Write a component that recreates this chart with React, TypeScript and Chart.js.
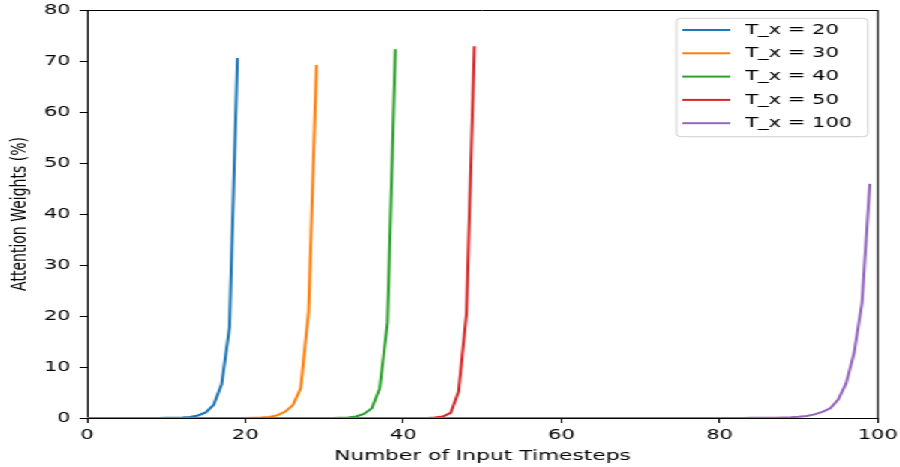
import React, { useEffect, useRef } from "react";
import { Chart, registerables } from "chart.js";

Chart.register(...registerables);

// ---- data ----
const seriesLabels = ["T_x = 20", "T_x = 30", "T_x = 40", "T_x = 50", "T_x = 100"];
const seriesColors = ["#1f77b4", "#ff7f0e", "#2ca02c", "#d62728", "#9467bd"];
const xTicks = [0, 20, 40, 60, 80, 100];
const yTicks = [0, 10, 20, 30, 40, 50, 60, 70, 80];
const xTitle = "Number of Input Timesteps";
const yTitle = "Attention Weights (%)";

const attnTx20 = [
  0, 0, 0, 0, 0, 0, 0, 0, 0.01, 0.02,
  0.03, 0.05, 0.1, 0.2, 0.5, 1.1, 2.6, 6.6, 17.8, 70.6,
];

const attnTx30 = [
  0, 0, 0, 0, 0, 0, 0, 0, 0, 0,
  0, 0, 0, 0, 0, 0, 0, 0, 0, 0.01,
  0.02, 0.05, 0.1, 0.2, 0.5, 1.2, 2.5, 5.8, 20.8, 69.2,
];

const attnTx40 = [
  0, 0, 0, 0, 0, 0, 0, 0, 0, 0,
  0, 0, 0, 0, 0, 0, 0, 0, 0, 0,
  0, 0, 0, 0, 0, 0, 0, 0, 0, 0,
  0, 0.02, 0.05, 0.1, 0.3, 0.8, 1.9, 5.8, 18.7, 72.3,
];

const attnTx50 = [
  0, 0, 0, 0, 0, 0, 0, 0, 0, 0,
  0, 0, 0, 0, 0, 0, 0, 0, 0, 0,
  0, 0, 0, 0, 0, 0, 0, 0, 0, 0,
  0, 0, 0, 0, 0, 0, 0, 0, 0, 0,
  0, 0, 0, 0.02, 0.08, 0.3, 1.0, 5.2, 20.5, 72.9,
];

const attnTx100 = [
  0, 0, 0, 0, 0, 0, 0, 0, 0, 0,
  0, 0, 0, 0, 0, 0, 0, 0, 0, 0,
  0, 0, 0, 0, 0, 0, 0, 0, 0, 0,
  0, 0, 0, 0, 0, 0, 0, 0, 0, 0,
  0, 0, 0, 0, 0, 0, 0, 0, 0, 0,
  0, 0, 0, 0, 0, 0, 0, 0, 0, 0,
  0, 0, 0, 0, 0, 0, 0, 0, 0, 0,
  0, 0, 0, 0, 0, 0, 0, 0, 0, 0,
  0.005, 0.01, 0.013, 0.018, 0.025, 0.035, 0.05, 0.07, 0.1, 0.15,
  0.25, 0.4, 0.7, 1.2, 1.9, 3.6, 6.8, 12.7, 22.5, 45.9,
];

const seriesValues = [attnTx20, attnTx30, attnTx40, attnTx50, attnTx100];

// logical canvas (stretched horizontally to 900px like the reference)
const LOGICAL_W = 600;
const LOGICAL_H = 467;
const STRETCH = 900 / LOGICAL_W;
const FONT = '"DejaVu Sans", sans-serif';

const spinesPlugin = {
  id: "mplSpines",
  afterDatasetsDraw(chart: any) {
    const { ctx, chartArea } = chart;
    ctx.save();
    ctx.strokeStyle = "#000";
    ctx.lineWidth = 1;
    ctx.beginPath();
    ctx.moveTo(chartArea.left, Math.round(chartArea.top) + 0.5);
    ctx.lineTo(chartArea.right, Math.round(chartArea.top) + 0.5);
    ctx.moveTo(chartArea.right, chartArea.top);
    ctx.lineTo(chartArea.right, chartArea.bottom);
    ctx.stroke();
    ctx.restore();
  },
};

const legendPlugin = {
  id: "mplLegend",
  afterDraw(chart: any) {
    const { ctx, chartArea } = chart;
    const x0 = chartArea.right - 134.3;
    const y0 = chartArea.top + 8.3;
    const w = 127.7;
    const h = 118.4;
    const r = 3;
    ctx.save();
    ctx.beginPath();
    ctx.moveTo(x0 + r, y0);
    ctx.lineTo(x0 + w - r, y0);
    ctx.quadraticCurveTo(x0 + w, y0, x0 + w, y0 + r);
    ctx.lineTo(x0 + w, y0 + h - r);
    ctx.quadraticCurveTo(x0 + w, y0 + h, x0 + w - r, y0 + h);
    ctx.lineTo(x0 + r, y0 + h);
    ctx.quadraticCurveTo(x0, y0 + h, x0, y0 + h - r);
    ctx.lineTo(x0, y0 + r);
    ctx.quadraticCurveTo(x0, y0, x0 + r, y0);
    ctx.closePath();
    ctx.fillStyle = "rgba(255,255,255,0.8)";
    ctx.fill();
    ctx.strokeStyle = "#d0d0d0";
    ctx.lineWidth = 1;
    ctx.stroke();

    chart.data.datasets.forEach((ds: any, i: number) => {
      const y = y0 + 11.7 + i * 23.3;
      ctx.beginPath();
      ctx.strokeStyle = ds.borderColor;
      ctx.lineWidth = 2;
      ctx.moveTo(x0 + 4, y);
      ctx.lineTo(x0 + 36, y);
      ctx.stroke();
      ctx.fillStyle = "#000";
      ctx.font = `14px ${FONT}`;
      ctx.textBaseline = "middle";
      ctx.textAlign = "left";
      ctx.fillText(ds.label, x0 + 46, y);
    });
    ctx.restore();
  },
};

export default function App() {
  const canvasRef = useRef<HTMLCanvasElement | null>(null);

  useEffect(() => {
    const canvas = canvasRef.current;
    if (!canvas) return;
    Chart.defaults.font.family = FONT;

    const datasets = seriesValues.map((vals, i) => ({
      label: seriesLabels[i],
      data: vals.map((v, idx) => ({ x: idx, y: v })),
      borderColor: seriesColors[i],
      backgroundColor: seriesColors[i],
      borderWidth: 2,
      pointRadius: 0,
      tension: 0,
      fill: false,
      order: seriesValues.length - 1 - i,
    }));

    const chart = new Chart(canvas, {
      type: "line",
      data: { datasets },
      plugins: [spinesPlugin, legendPlugin],
      options: {
        animation: false,
        responsive: false,
        maintainAspectRatio: false,
        devicePixelRatio: 1,
        layout: { padding: { top: 10, right: 14.7, left: 0, bottom: 0 } },
        plugins: {
          legend: { display: false },
          tooltip: { enabled: false },
          title: { display: false },
        },
        scales: {
          x: {
            type: "linear",
            min: 0,
            max: 100,
            afterBuildTicks: (s: any) => {
              s.ticks = xTicks.map((v) => ({ value: v }));
            },
            afterFit: (s: any) => {
              s.height = 49;
              s.paddingLeft = 0;
              s.paddingRight = 0;
            },
            ticks: {
              font: { size: 14 },
              color: "#000",
              padding: 4,
              maxRotation: 0,
              autoSkip: false,
            },
            grid: {
              drawOnChartArea: false,
              drawTicks: true,
              tickLength: 5,
              tickColor: "#000",
              tickWidth: 1,
            },
            border: { display: true, color: "#000", width: 1 },
            title: {
              display: true,
              text: xTitle,
              color: "#000",
              font: { size: 14.5 },
              padding: { top: 0, bottom: 2 },
            },
          },
          y: {
            type: "linear",
            min: 0,
            max: 80,
            afterBuildTicks: (s: any) => {
              s.ticks = yTicks.map((v) => ({ value: v }));
            },
            afterFit: (s: any) => {
              s.width = 58;
              s.paddingTop = 0;
              s.paddingBottom = 0;
            },
            ticks: {
              font: { size: 14 },
              color: "#000",
              padding: 6,
              autoSkip: false,
            },
            grid: {
              drawOnChartArea: false,
              drawTicks: true,
              tickLength: 5,
              tickColor: "#000",
              tickWidth: 1,
            },
            border: { display: true, color: "#000", width: 1 },
            title: {
              display: true,
              text: yTitle,
              color: "#000",
              font: { size: 14 },
              padding: { top: 5, bottom: 0 },
            },
          },
        },
      },
    } as any);

    return () => chart.destroy();
  }, []);

  return (
    <div
      style={{
        position: "absolute",
        left: 0,
        top: 0,
        width: LOGICAL_W,
        height: LOGICAL_H,
        transform: `scale(${STRETCH}, 1)`,
        transformOrigin: "0 0",
        background: "#fff",
      }}
    >
      <canvas
        ref={canvasRef}
        width={LOGICAL_W}
        height={LOGICAL_H}
        style={{ width: LOGICAL_W, height: LOGICAL_H, display: "block" }}
      />
    </div>
  );
}
